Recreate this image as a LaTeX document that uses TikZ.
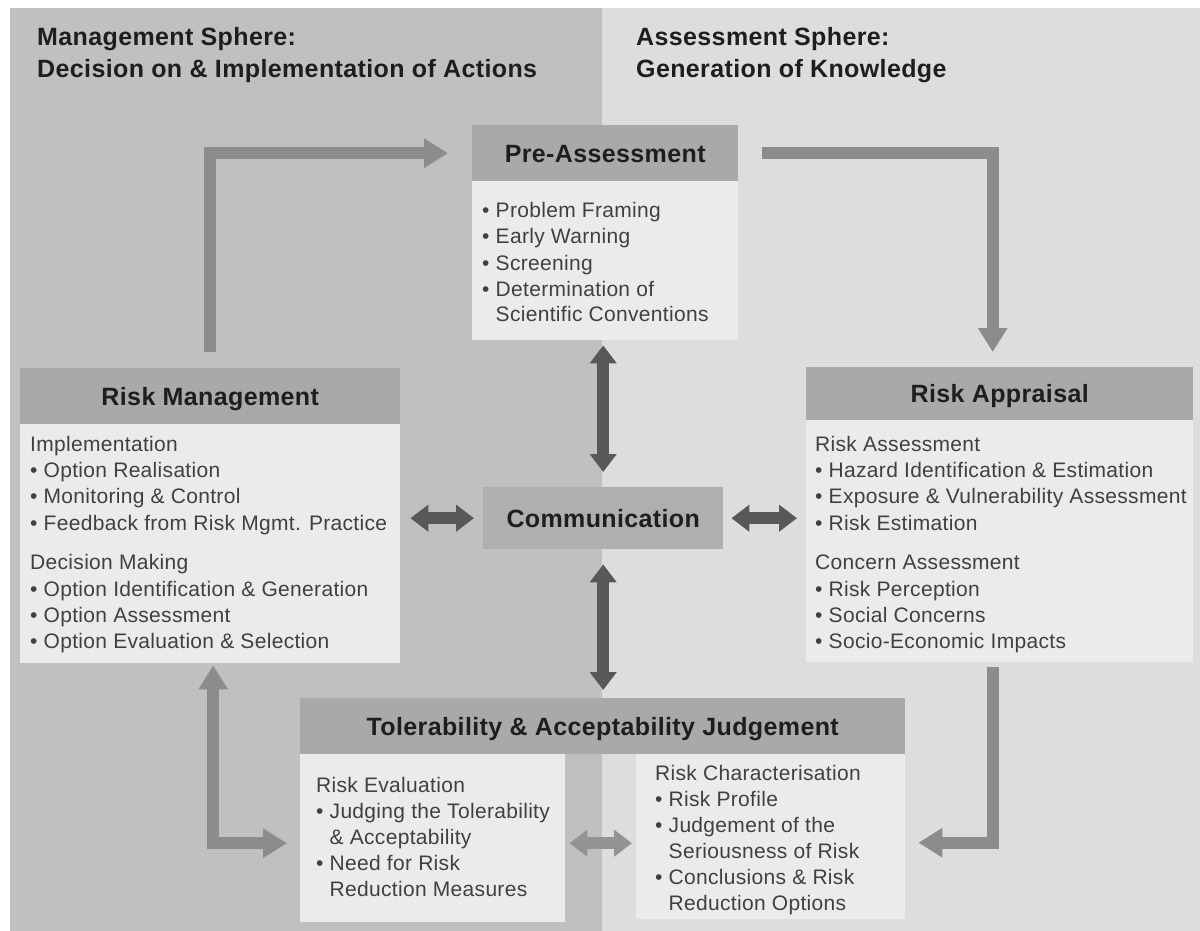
\documentclass[tikz,border=0pt]{standalone}
\usepackage{fontspec}
\setmainfont{Liberation Sans}[LetterSpace=1.5]
\usetikzlibrary{arrows.meta}
\definecolor{leftbg}{HTML}{C0C0C0}
\definecolor{rightbg}{HTML}{DCDDDC}
\definecolor{hdrc}{HTML}{A9A9A9}
\definecolor{commc}{HTML}{AFAFAF}
\definecolor{bodyc}{HTML}{EBEBEB}
\definecolor{darkarr}{HTML}{585858}
\definecolor{larr}{HTML}{8C8C8C}
\definecolor{midarr}{HTML}{939393}
\definecolor{txt}{HTML}{1E1E1E}
\definecolor{btxt}{HTML}{404040}
\newcommand\tlines[2]{\vtop{\baselineskip=#1pt\lineskiplimit=-30pt\lineskip=0pt\halign{##\hfil\cr#2\crcr}}}
\newcommand\bul{\textbullet\ }
\newcommand\nobul{\hphantom{\textbullet\ }}
\begin{document}
\begin{tikzpicture}[x=1pt,y=-1pt,
  hdr/.style={fill=hdrc, text=txt, font=\fontsize{25}{30}\selectfont\bfseries, inner sep=0pt, anchor=north west, text height=18pt, text depth=0pt},
  bodybox/.style={fill=bodyc, inner sep=0pt, anchor=north west},
  btext/.style={text=btxt, font=\fontsize{21}{26}\selectfont, inner sep=0pt, anchor=base west},
  sph/.style={text=txt, font=\fontsize{25}{30}\selectfont\bfseries, inner sep=0pt, anchor=base west},
  darr/.style={draw=darkarr, line width=12pt, arrows={Triangle[width=26pt,length=18pt]-Triangle[width=26pt,length=18pt]}},
  marr/.style={draw=midarr, line width=12pt, arrows={Triangle[width=26pt,length=18pt]-Triangle[width=26pt,length=18pt]}},
  larrow/.style={draw=larr, line width=12pt, arrows={-Triangle[width=28pt,length=24pt]}},
  larrowd/.style={draw=larr, line width=12pt, arrows={Triangle[width=28pt,length=24pt]-Triangle[width=28pt,length=24pt]}}
]
\path[use as bounding box] (0,0) rectangle (1200,931);
\fill[white] (0,0) rectangle (1200,931);
\fill[leftbg] (10,8) rectangle (602,931);
\fill[rightbg] (602,8) rectangle (1200,931);

% sphere headings
\node[sph] (msph) at (37,46) {\tlines{32}{Management Sphere:\cr Decision on \& Implementation of Actions}};
\node[sph] (asph) at (636,46) {\tlines{32}{Assessment Sphere:\cr Generation of Knowledge}};

% Pre-Assessment
\node[hdr, minimum width=266pt, minimum height=56pt] (pah) at (472,125) {Pre-Assessment};
\node[bodybox, minimum width=266pt, minimum height=159pt] (pab) at (472,181) {};
\node[btext] (pat) at (482,218) {\tlines{26}{\bul Problem Framing\cr \bul Early Warning\cr \bul Screening\cr \bul Determination of\cr \nobul Scientific Conventions}};

% Risk Management
\node[hdr, minimum width=380pt, minimum height=56pt] (rmh) at (20,368) {Risk Management};
\node[bodybox, minimum width=380pt, minimum height=239pt] (rmb) at (20,424) {};
\node[btext] (rmt) at (30,451) {\tlines{26.4}{Implementation\cr \bul Option Realisation\cr \bul Monitoring \& Control\cr \bul Feedback from Risk Mgmt. Practice\cr\noalign{\vskip 13pt} Decision Making\cr \bul Option Identification \& Generation\cr \bul Option Assessment\cr \bul Option Evaluation \& Selection}};

% Risk Appraisal
\node[hdr, minimum width=387pt, minimum height=53pt] (rah) at (806,367) {Risk Appraisal};
\node[bodybox, minimum width=387pt, minimum height=242pt] (rab) at (806,420) {};
\node[btext] (rat) at (815,451) {\tlines{26.4}{Risk Assessment\cr \bul Hazard Identification \& Estimation\cr \bul Exposure \& Vulnerability Assessment\cr \bul Risk Estimation\cr\noalign{\vskip 13pt} Concern Assessment\cr \bul Risk Perception\cr \bul Social Concerns\cr \bul Socio-Economic Impacts}};

% Communication
\node[hdr, fill=commc, minimum width=240pt, minimum height=62pt] (com) at (483,487) {Communication};

% Tolerability & Acceptability
\node[hdr, minimum width=605pt, minimum height=56pt] (tah) at (300,698) {Tolerability \& Acceptability Judgement};
\node[bodybox, minimum width=265pt, minimum height=168pt] (reb) at (300,754) {};
\node[bodybox, minimum width=269pt, minimum height=165pt] (rcb) at (636,754) {};
\node[btext] (ret) at (316,792) {\tlines{26}{Risk Evaluation\cr \bul Judging the Tolerability\cr \nobul\& Acceptability\cr \bul Need for Risk\cr \nobul Reduction Measures}};
\node[btext] (rct) at (655,780) {\tlines{26}{Risk Characterisation\cr \bul Risk Profile\cr \bul Judgement of the\cr \nobul Seriousness of Risk\cr \bul Conclusions \& Risk\cr \nobul Reduction Options}};

% light L-shaped arrows
\draw[larrow] ([yshift=16pt]rmh.north) |- ([xshift=-24pt]pah.west);
\draw[larrow] ([xshift=24pt]pah.east) -| ([xshift=-7pt,yshift=15pt]rah.north);
\draw[larrow] ([xshift=-7pt,yshift=-5pt]rab.south) |- ([xshift=13pt,yshift=-6pt]rcb.east);
\draw[larrowd] ([xshift=3pt,yshift=-2pt]rmb.south) |- ([xshift=-13pt,yshift=-5pt]reb.west);

% mid arrow between bodies
\draw[marr] ([xshift=4pt,yshift=-5pt]reb.east) -- ([xshift=-4pt,yshift=-5pt]reb.east -| rcb.west);

% dark communication arrows
\draw[darr] ([yshift=-5pt]pab.south -| com.north) -- ([yshift=15pt]com.north);
\draw[darr] ([yshift=-15pt]com.south) -- ([yshift=8pt]tah.north -| com.south);
\draw[darr] ([xshift=10pt]rmb.east |- com.west) -- ([xshift=-9pt]com.west);
\draw[darr] ([xshift=8pt]com.east) -- ([xshift=-9pt]com.east -| rab.west);
\end{tikzpicture}
\end{document}
